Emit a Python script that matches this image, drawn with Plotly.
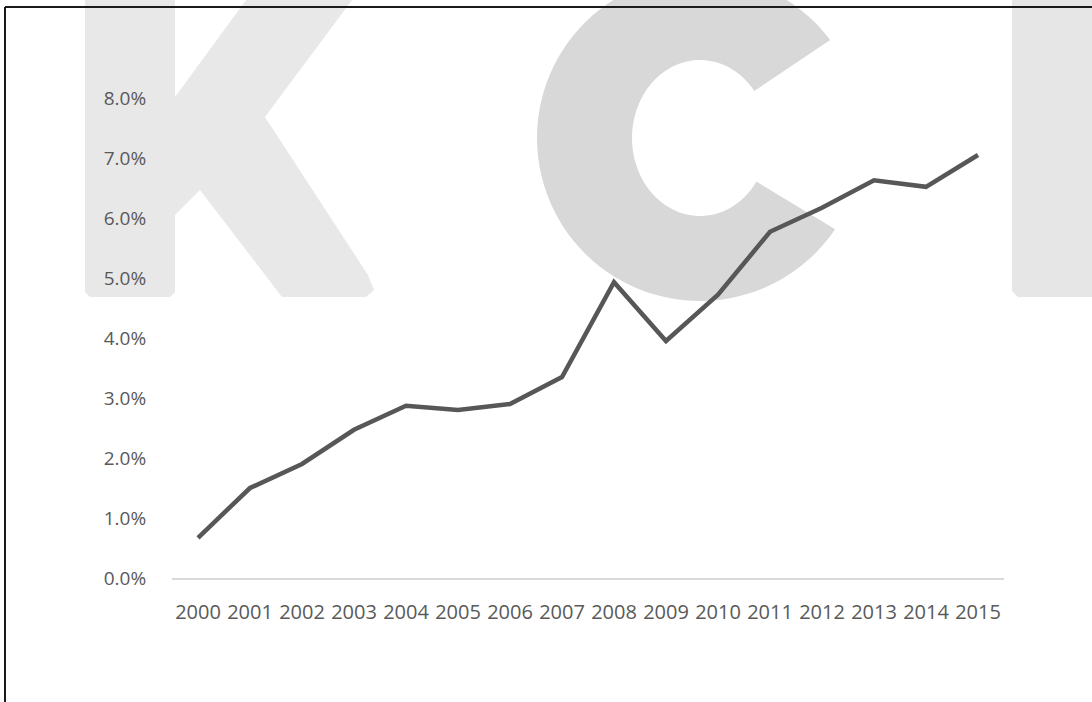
import numpy as np
import plotly.graph_objects as go

years = [str(y) for y in range(2000, 2016)]
rate_pct = [0.67, 1.50, 1.90, 2.47, 2.87, 2.80, 2.90, 3.35, 4.93, 3.95, 4.72, 5.77, 6.17, 6.63, 6.52, 7.05]

W, H = 1092, 702
L, R, T, B = 172, 1004, 98, 578  # plot area in pixels


def px(x):
    return (x - L) / (R - L)


def py(y):
    return (B - y) / (B - T)


def path(points):
    return "M " + " L ".join(f"{px(x):.5f},{py(y):.5f}" for x, y in points) + " Z"


fig = go.Figure()
fig.add_trace(go.Scatter(
    x=years, y=rate_pct, mode="lines",
    line=dict(color="#575757", width=4.5),
    hoverinfo="x+y", showlegend=False,
))

shapes = []
# watermark "K"
k_pts = [(85, -8), (175, -8), (175, 97), (252, -8), (358, -8), (265, 117),
         (368, 275), (374, 290), (366, 297), (282, 297), (200, 190), (175, 215),
         (175, 292), (170, 297), (90, 297), (85, 292)]
shapes.append(dict(type="path", path=path(k_pts), xref="paper", yref="paper",
                   fillcolor="#e8e8e8", line=dict(width=0), layer="below"))
# watermark "C"
cx, cy = 700, 138
Ro, rx_i, ry_i = 163, 68, 78
cut_up, cut_dn = np.radians(37), np.radians(34)
outer = [(cx + Ro * np.cos(a), cy - Ro * np.sin(a))
         for a in np.linspace(cut_up, 2 * np.pi - cut_dn, 90)]
inner = [(cx + rx_i * np.cos(a), cy - ry_i * np.sin(a))
         for a in np.linspace(2 * np.pi - cut_dn, cut_up, 90)]
shapes.append(dict(type="path", path=path(outer + inner), xref="paper", yref="paper",
                   fillcolor="#d8d8d8", line=dict(width=0), layer="below"))
# watermark "I"
i_pts = [(1012, -8), (1100, -8), (1100, 297), (1018, 297), (1012, 291)]
shapes.append(dict(type="path", path=path(i_pts), xref="paper", yref="paper",
                   fillcolor="#e6e6e6", line=dict(width=0), layer="below"))
# frame lines
shapes.append(dict(type="line", xref="paper", yref="paper",
                   x0=px(5), x1=px(1100), y0=py(7), y1=py(7),
                   line=dict(color="#1a1a1a", width=2), layer="above"))
shapes.append(dict(type="line", xref="paper", yref="paper",
                   x0=px(5), x1=px(5), y0=py(7), y1=py(710),
                   line=dict(color="#1a1a1a", width=2), layer="above"))

fig.update_layout(
    width=W, height=H,
    margin=dict(l=L, r=W - R, t=T, b=H - B, pad=0),
    paper_bgcolor="white", plot_bgcolor="rgba(0,0,0,0)",
    font=dict(family="Open Sans", color="#595959", size=20),
    shapes=shapes,
    xaxis=dict(
        type="category", range=[-0.5, 15.5],
        showline=True, linecolor="#d9d9d9", linewidth=1.5,
        showgrid=False, zeroline=False,
        ticks="outside", ticklen=15, tickcolor="rgba(0,0,0,0)",
        tickfont=dict(size=20, color="#595959"),
    ),
    yaxis=dict(
        range=[0, 8], dtick=1, tick0=0,
        tickformat=".1f", ticksuffix="%",
        showgrid=False, zeroline=False, showline=False,
        ticks="outside", ticklen=21, tickcolor="rgba(0,0,0,0)",
        tickfont=dict(size=19, color="#595959"),
    ),
)

fig.write_html("out.html")
